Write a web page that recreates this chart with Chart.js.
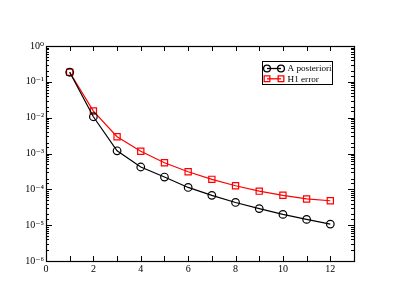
<!DOCTYPE html>
<html><head><meta charset="utf-8">
<script src="https://cdn.jsdelivr.net/npm/chart.js@4.4.1/dist/chart.umd.min.js"></script>
<style>html,body{margin:0;padding:0;background:#fff}#wrap{width:399px;height:308px}</style>
</head><body><div id="wrap"><canvas id="c"></canvas></div>
<script>
const xValues = [1,2,3,4,5,6,7,8,9,10,11,12];
const aPosteriori = [0.185,0.0106,0.00119,4.2e-4,2.2e-4,1.13e-4,6.8e-5,4.3e-5,2.9e-5,2.0e-5,1.45e-5,1.07e-5];
const h1Error = [0.185,0.0153,0.00295,1.15e-3,5.5e-4,3.1e-4,1.9e-4,1.26e-4,8.9e-5,6.8e-5,5.4e-5,4.8e-5];
const seriesLabels = ["A posteriori","H1 error"];
const yTickLabels = {"0":"10⁰","-1":"10⁻¹","-2":"10⁻²","-3":"10⁻³","-4":"10⁻⁴","-5":"10⁻⁵","-6":"10⁻⁶"};

const FONT = '"Liberation Serif","DejaVu Serif",serif';

const framePlugin = {
  id:'frame',
  afterDatasetsDraw(chart){
    const ctx = chart.ctx, a = chart.chartArea;
    const xs = chart.scales.x, ys = chart.scales.y;
    ctx.save();
    ctx.strokeStyle = '#000'; ctx.lineWidth = 1;
    ctx.beginPath();
    xs.ticks.forEach(t=>{
      const px = Math.round(xs.getPixelForValue(t.value))+0.5;
      if (px < a.left+1 || px > a.right-1) return;
      ctx.moveTo(px,a.bottom); ctx.lineTo(px,a.bottom-5);
      ctx.moveTo(px,a.top); ctx.lineTo(px,a.top+5);
    });
    ys.ticks.forEach(t=>{
      const py = Math.round(ys.getPixelForValue(t.value))+0.5;
      const lg = Math.log10(t.value);
      const major = Math.abs(lg-Math.round(lg))<1e-9;
      const len = major?6:3;
      ctx.moveTo(a.left,py); ctx.lineTo(a.left+len,py);
      ctx.moveTo(a.right,py); ctx.lineTo(a.right-len,py);
    });
    ctx.stroke();
    ctx.lineWidth = 1.2;
    ctx.strokeRect(Math.round(a.left)+0.5, Math.round(a.top)+0.5, Math.round(a.right-a.left), Math.round(a.bottom-a.top));
    // legend
    const lx = 262.5, ly = 61.5, lw = 70, lh = 23;
    ctx.fillStyle='#fff'; ctx.fillRect(lx,ly,lw,lh);
    ctx.lineWidth = 1; ctx.strokeStyle='#000'; ctx.strokeRect(lx,ly,lw,lh);
    chart.data.datasets.forEach((ds,i)=>{
      const y = ly + 7 + i*10.3;
      const x1 = lx+4.5, x2 = lx+18.5;
      ctx.strokeStyle = ds.borderColor; ctx.lineWidth = 1.3;
      ctx.beginPath(); ctx.moveTo(x1,y); ctx.lineTo(x2,y); ctx.stroke();
      const opt = {pointStyle: ds.pointStyle, radius: ds.pointRadius-0.4, borderWidth: ds.pointBorderWidth};
      ctx.strokeStyle = ds.borderColor; ctx.fillStyle = 'rgba(0,0,0,0)';
      Chart.helpers.drawPoint(ctx,opt,x1,y);
      Chart.helpers.drawPoint(ctx,opt,x2,y);
      ctx.fillStyle='#000'; ctx.font = '9.2px '+FONT; ctx.textBaseline='middle'; ctx.textAlign='left';
      ctx.fillText(ds.label, lx+25, y+0.5);
    });
    ctx.restore();
  }
};

new Chart(document.getElementById('c'), {
  type:'line',
  data:{
    datasets:[
      {label:seriesLabels[0], data:xValues.map((x,i)=>({x:x,y:aPosteriori[i]})), borderColor:'#000', backgroundColor:'rgba(0,0,0,0)',
       borderWidth:1.2, pointStyle:'circle', pointRadius:3.8, pointBorderWidth:1.2, pointBackgroundColor:'rgba(0,0,0,0)', pointBorderColor:'#000', tension:0},
      {label:seriesLabels[1], data:xValues.map((x,i)=>({x:x,y:h1Error[i]})), borderColor:'#ff0000', backgroundColor:'rgba(0,0,0,0)',
       borderWidth:1.2, pointStyle:'rect', pointRadius:4.4, pointBorderWidth:1.2, pointBackgroundColor:'rgba(0,0,0,0)', pointBorderColor:'#ff0000', tension:0}
    ]
  },
  options:{
    responsive:true, maintainAspectRatio:false, animation:false,
    layout:{padding:{left:0,right:45,top:46,bottom:0}},
    plugins:{legend:{display:false}, tooltip:{enabled:false}},
    scales:{
      x:{type:'linear', min:0, max:13,
        grid:{display:false, drawTicks:false}, border:{display:false},
        ticks:{stepSize:1, autoSkip:false, maxRotation:0, padding:2, color:'#000', font:{family:FONT,size:10},
          callback:(v)=> (v%2===0 ? String(v) : '')},
        afterFit:(s)=>{ s.height = 47; }
      },
      y:{type:'logarithmic', min:1e-6, max:1,
        grid:{display:false, drawTicks:false}, border:{display:false},
        ticks:{autoSkip:false, padding:2, color:'#000', font:{family:FONT,size:10},
          callback:(v)=>{ const lg=Math.log10(v); const r=Math.round(lg); return Math.abs(lg-r)<1e-9 ? yTickLabels[String(r)] : ''; }},
        afterFit:(s)=>{ s.width = 46; }
      }
    }
  },
  plugins:[framePlugin]
});
</script></body></html>
